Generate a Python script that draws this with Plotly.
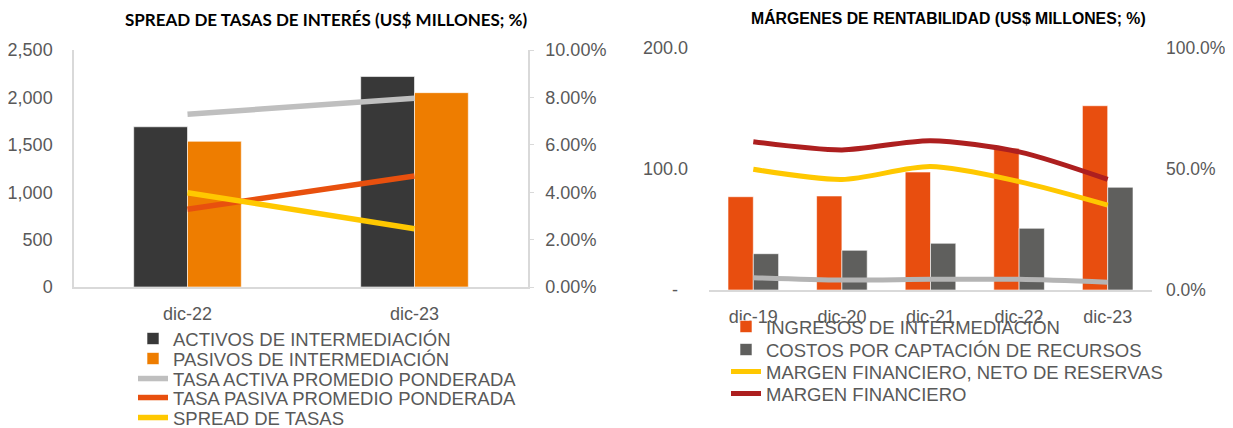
import plotly.graph_objects as go

# ---------------- data: left chart ----------------
cat_left = ["dic-22", "dic-23"]
activos = [1690, 2220]
pasivos = [1537, 2050]
tasa_activa = [0.0729, 0.0796]
tasa_pasiva = [0.0328, 0.0468]
spread_tasas = [0.0398, 0.0246]
left_y_ticks = [0, 500, 1000, 1500, 2000, 2500]
left_y2_ticks = [0, 0.02, 0.04, 0.06, 0.08, 0.10]

# ---------------- data: right chart ----------------
cat_right = ["dic-19", "dic-20", "dic-21", "dic-22", "dic-23"]
ingresos = [77.1, 77.7, 97.5, 117.1, 152.3]
costos = [30.0, 32.8, 38.6, 51.0, 84.9]
margen_neto = [0.499, 0.457, 0.510, 0.448, 0.351]
margen_fin = [0.613, 0.579, 0.617, 0.571, 0.457]
serie_gris = [0.051, 0.041, 0.044, 0.044, 0.032]
right_y_tickvals = [0, 100, 200]
right_y_ticktext = ["-\u00a0\u00a0", "100.0", "200.0"]
right_y2_ticks = [0, 0.5, 1.0]

# page body has an 8px margin: figure is drawn offset by (8, 8)
OFF = 8
W, H = 1233 - OFF, 428 - OFF
def px_x(p): return (p - OFF) / W
def px_y(p): return 1 - (p - OFF) / H

TXT = "#595959"
AXL = "#d9d9d9"
FONT = "Liberation Sans, Arial, sans-serif"

fig = go.Figure()

# ---- left chart traces ----
bw_l = 0.237
fig.add_trace(go.Bar(x=cat_left, y=activos, name="ACTIVOS DE INTERMEDIACIÓN",
                     marker=dict(color="#383838", line=dict(color="#ffffff", width=0.6)),
                     width=bw_l, offset=-bw_l, xaxis="x", yaxis="y", legend="legend"))
fig.add_trace(go.Bar(x=cat_left, y=pasivos, name="PASIVOS DE INTERMEDIACIÓN",
                     marker=dict(color="#EE7D00", line=dict(color="#ffffff", width=0.6)),
                     width=bw_l, offset=0, xaxis="x", yaxis="y", legend="legend2"))
fig.add_trace(go.Scatter(x=cat_left, y=tasa_activa, name="TASA ACTIVA PROMEDIO PONDERADA",
                         mode="lines", line=dict(color="#BFBFBF", width=5.5),
                         xaxis="x", yaxis="y2", legend="legend3"))
fig.add_trace(go.Scatter(x=cat_left, y=tasa_pasiva, name="TASA PASIVA PROMEDIO PONDERADA",
                         mode="lines", line=dict(color="#E8500E", width=5.5),
                         xaxis="x", yaxis="y2", legend="legend4"))
fig.add_trace(go.Scatter(x=cat_left, y=spread_tasas, name="SPREAD DE TASAS",
                         mode="lines", line=dict(color="#FFC800", width=5.5),
                         xaxis="x", yaxis="y2", legend="legend5"))

# ---- right chart traces ----
bw_r = 0.2856
fig.add_trace(go.Bar(x=cat_right, y=ingresos, name="INGRESOS DE INTERMEDIACIÓN",
                     marker=dict(color="#E84E0F", line=dict(color="#ffffff", width=0.6)),
                     width=bw_r, offset=-bw_r, xaxis="x3", yaxis="y3", legend="legend6"))
fig.add_trace(go.Bar(x=cat_right, y=costos, name="COSTOS POR CAPTACIÓN DE RECURSOS",
                     marker=dict(color="#5F5F5D", line=dict(color="#ffffff", width=0.6)),
                     width=bw_r, offset=0, xaxis="x3", yaxis="y3", legend="legend7"))
fig.add_trace(go.Scatter(x=cat_right, y=serie_gris, name="serie gris", showlegend=False,
                         mode="lines", line=dict(color="#B4B4B4", width=5, shape="spline", smoothing=0.8),
                         xaxis="x3", yaxis="y4"))
fig.add_trace(go.Scatter(x=cat_right, y=margen_neto, name="MARGEN FINANCIERO, NETO DE RESERVAS",
                         mode="lines", line=dict(color="#FFC800", width=5, shape="spline", smoothing=0.8),
                         xaxis="x3", yaxis="y4", legend="legend8"))
fig.add_trace(go.Scatter(x=cat_right, y=margen_fin, name="MARGEN FINANCIERO",
                         mode="lines", line=dict(color="#AD1F1F", width=5, shape="spline", smoothing=0.8),
                         xaxis="x3", yaxis="y4", legend="legend9"))

tickfont = dict(family=FONT, size=18, color=TXT)

layout = dict(
    width=W, height=H,
    margin=dict(l=0, r=0, t=0, b=0, autoexpand=False),
    paper_bgcolor="white", plot_bgcolor="white",
    font=dict(family=FONT, color=TXT, size=18),
    barmode="group",
    hovermode=False,
    xaxis=dict(domain=[px_x(74), px_x(528)], anchor="y", type="category",
               range=[-0.5, 1.5], showline=True, linecolor=AXL, linewidth=1.5,
               showgrid=False, ticks="", tickfont=tickfont, ticklabelstandoff=10),
    yaxis=dict(domain=[px_y(287), px_y(50)], anchor="x", range=[0, 2500],
               tickvals=left_y_ticks, tickformat=",", showline=True, linecolor=AXL,
               linewidth=1.5, showgrid=False, zeroline=False, ticks="",
               tickfont=tickfont, ticklabelstandoff=16),
    yaxis2=dict(overlaying="y", side="right", anchor="x", range=[0, 0.10],
                tickvals=left_y2_ticks, tickformat=".2%", showline=True, linecolor=AXL,
                linewidth=1.5, showgrid=False, zeroline=False, ticks="outside",
                ticklen=4, tickcolor=AXL, tickfont=tickfont, ticklabelstandoff=8),
    xaxis3=dict(domain=[px_x(709), px_x(1152)], anchor="y3", type="category",
                range=[-0.5, 4.5], showline=True, linecolor=AXL, linewidth=1.5,
                showgrid=False, ticks="", tickfont=tickfont, ticklabelstandoff=10),
    yaxis3=dict(domain=[px_y(290), px_y(48)], anchor="x3", range=[0, 200],
                tickvals=right_y_tickvals, ticktext=right_y_ticktext, showline=False,
                showgrid=False, zeroline=False, ticks="", tickfont=tickfont,
                ticklabelstandoff=20),
    yaxis4=dict(overlaying="y3", side="right", anchor="x3", range=[0, 1.0],
                tickvals=right_y2_ticks, tickformat=".1%", showline=False,
                showgrid=False, zeroline=False, ticks="",
                tickfont=dict(family=FONT, size=17.5, color=TXT),
                ticklabelstandoff=13),
    annotations=[
        dict(text="<b>SPREAD DE TASAS DE INTERÉS (US$ MILLONES; %)</b>", x=px_x(326), y=px_y(19),
             xref="paper", yref="paper", showarrow=False, xanchor="center", yanchor="middle",
             font=dict(family="Lato, Open Sans, sans-serif", size=17, color="#000000")),
        dict(text="<b>MÁRGENES DE RENTABILIDAD (US$ MILLONES; %)</b>", x=px_x(948), y=px_y(18),
             xref="paper", yref="paper", showarrow=False, xanchor="center", yanchor="middle",
             font=dict(family=FONT, size=15.8, color="#000000")),
    ],
)

legend_font = dict(family=FONT, size=18.5, color=TXT)
def leg(xpx, ypx):
    return dict(x=px_x(xpx), y=px_y(ypx), xref="container", yref="container", xanchor="left",
                yanchor="middle", font=legend_font, bgcolor="rgba(0,0,0,0)",
                borderwidth=0, itemclick=False, itemdoubleclick=False, tracegroupgap=0)

left_leg_y = [339, 359, 379, 398, 418]
right_leg_y = [327, 350, 372, 394]
keys_left = ["legend", "legend2", "legend3", "legend4", "legend5"]
keys_right = ["legend6", "legend7", "legend8", "legend9"]
for k, yy in zip(keys_left, left_leg_y):
    layout[k] = leg(133, yy)
for k, yy in zip(keys_right, right_leg_y):
    layout[k] = leg(726, yy)

fig.update_layout(**layout)
fig.write_html("out.html")
